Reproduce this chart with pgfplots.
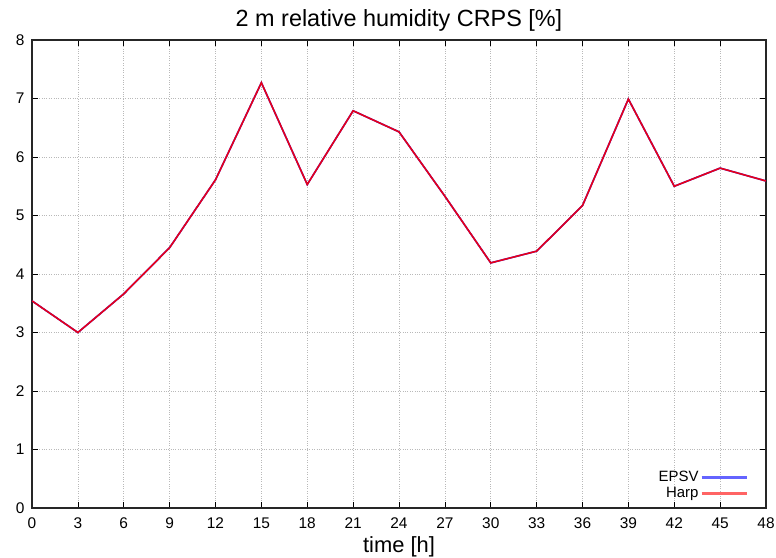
\documentclass[border=0pt]{standalone}
\usepackage{pgfplots}
\pgfplotsset{compat=1.18}
\usepackage{fontspec}
\setmainfont{Liberation Sans}
\definecolor{epsv}{RGB}{0,0,255}
\definecolor{harp}{RGB}{255,0,0}
\definecolor{epsvleg}{RGB}{100,100,255}
\definecolor{harpleg}{RGB}{255,100,100}
\begin{document}
\begin{tikzpicture}[x=1bp,y=1bp]
\useasboundingbox (-32bp,-50bp) rectangle (744bp,508bp);
\begin{axis}[
  at={(0,0)}, anchor=south west,
  scale only axis,
  width=734bp, height=468bp,
  xmin=0, xmax=48, ymin=0, ymax=8,
  xtick={0,3,...,48},
  ytick={0,1,...,8},
  tick align=inside,
  major tick length=6bp,
  tick style={black, line width=0.6pt},
  axis line style={black!85, line width=1.2pt},
  grid=major,
  major grid style={gray!55, dotted, line width=0.7pt},
  /pgf/number format/assume math mode=true,
  tick label style={font=\fontsize{15.5}{16}\selectfont},
  xticklabel style={yshift=-6bp},
  yticklabel style={xshift=-4bp},
  title={2 m relative humidity CRPS [\%]},
  title style={font=\fontsize{23.5}{25}\selectfont, yshift=-1bp},
  xlabel={time [h]},
  xlabel style={font=\fontsize{22}{24}\selectfont, yshift=-1bp},
  legend style={draw=none, fill=none, at={(0.9755,0.014)}, anchor=south east,
    font=\fontsize{15}{16}\selectfont, row sep=0bp, inner sep=0pt,
    legend cell align=right},
  legend plot pos=right,
  legend image code/.code={\draw[#1] (4bp,0bp) -- (49bp,0bp);},
]
\addplot[epsv, line width=1.6bp, legend image post style={draw=epsvleg, opacity=1, line width=2.3bp}] coordinates {
(0,3.54) (3,3.00) (6,3.66) (9,4.45) (12,5.61) (15,7.27) (18,5.53) (21,6.79) (24,6.43) (27,5.33) (30,4.19) (33,4.39) (36,5.17) (39,6.99) (42,5.50) (45,5.81) (48,5.59)
};
\addlegendentry{EPSV}
\addplot[harp, line width=1.6bp, opacity=0.9, legend image post style={draw=harpleg, opacity=1, line width=2.3bp}] coordinates {
(0,3.54) (3,3.00) (6,3.66) (9,4.45) (12,5.61) (15,7.27) (18,5.53) (21,6.79) (24,6.43) (27,5.33) (30,4.19) (33,4.39) (36,5.17) (39,6.99) (42,5.50) (45,5.81) (48,5.59)
};
\addlegendentry{Harp}
\end{axis}
\end{tikzpicture}
\end{document}
